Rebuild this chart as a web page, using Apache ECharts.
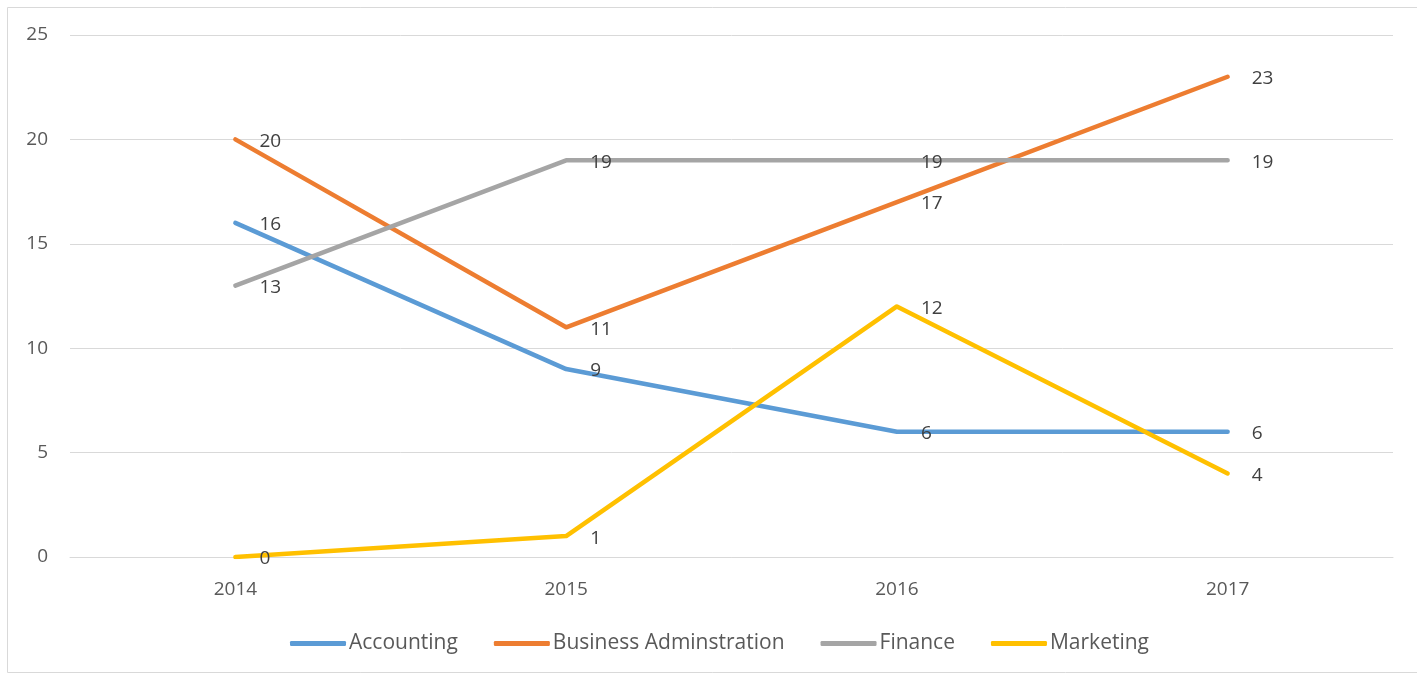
<!DOCTYPE html>
<html>
<head>
<meta charset="utf-8">
<script src="https://cdn.jsdelivr.net/npm/echarts@6/dist/echarts.min.js"></script>
<style>
html,body{margin:0;padding:0;background:#fff;}
#chart{width:1417px;height:677px;}
</style>
</head>
<body>
<div id="chart"></div>
<script>
const categories = ['2014', '2015', '2016', '2017'];
const accounting = [16, 9, 6, 6];
const businessAdmin = [20, 11, 17, 23];
const finance = [13, 19, 19, 19];
const marketing = [0, 1, 12, 4];
const seriesNames = ['Accounting', 'Business Adminstration', 'Finance', 'Marketing'];
const colors = ['#5B9BD5', '#ED7D31', '#A5A5A5', '#FFC000'];

const FONT = '"Open Sans", "Liberation Sans", sans-serif';
const chart = echarts.init(document.getElementById('chart'), null, {renderer: 'canvas'});

function mk(name, data, color) {
  return {
    name: name,
    type: 'line',
    data: data,
    symbol: 'circle',
    symbolSize: 0,
    showSymbol: true,
    lineStyle: {width: 4.5, color: color, cap: 'round', join: 'round'},
    itemStyle: {color: color},
    label: {
      show: true,
      position: 'right',
      distance: 24,
      offset: [0, 2],
      color: '#404040',
      fontSize: 19,
      fontFamily: FONT
    },
    z: 3
  };
}

chart.setOption({
  animation: false,
  color: colors,
  graphic: [{
    type: 'rect',
    shape: {x: 7.5, y: 7.5, width: 1420, height: 665},
    style: {fill: 'none', stroke: '#D9D9D9', lineWidth: 1},
    silent: true
  }],
  grid: {left: 70, right: 24, top: 35, bottom: 120, containLabel: false},
  legend: {
    bottom: 23,
    left: 290,
    itemWidth: 56,
    itemHeight: 5,
    itemGap: 36,
    padding: 0,
    icon: 'roundRect',
    textStyle: {color: '#595959', fontSize: 21, fontFamily: FONT, padding: [0, 0, 0, -2]},
    data: seriesNames
  },
  xAxis: {
    type: 'category',
    data: categories,
    boundaryGap: true,
    axisLine: {show: true, lineStyle: {color: '#D9D9D9', width: 1}},
    axisTick: {show: false},
    axisLabel: {color: '#595959', fontSize: 19, fontFamily: FONT, margin: 23}
  },
  yAxis: {
    type: 'value',
    min: 0,
    max: 25,
    interval: 5,
    axisLine: {show: false},
    axisTick: {show: false},
    splitLine: {lineStyle: {color: '#D9D9D9', width: 1}},
    axisLabel: {color: '#595959', fontSize: 19, fontFamily: FONT, margin: 22, padding: [4, 0, 0, 0]}
  },
  series: [
    mk(seriesNames[0], accounting, colors[0]),
    mk(seriesNames[1], businessAdmin, colors[1]),
    mk(seriesNames[2], finance, colors[2]),
    mk(seriesNames[3], marketing, colors[3])
  ]
});
</script>
</body>
</html>
